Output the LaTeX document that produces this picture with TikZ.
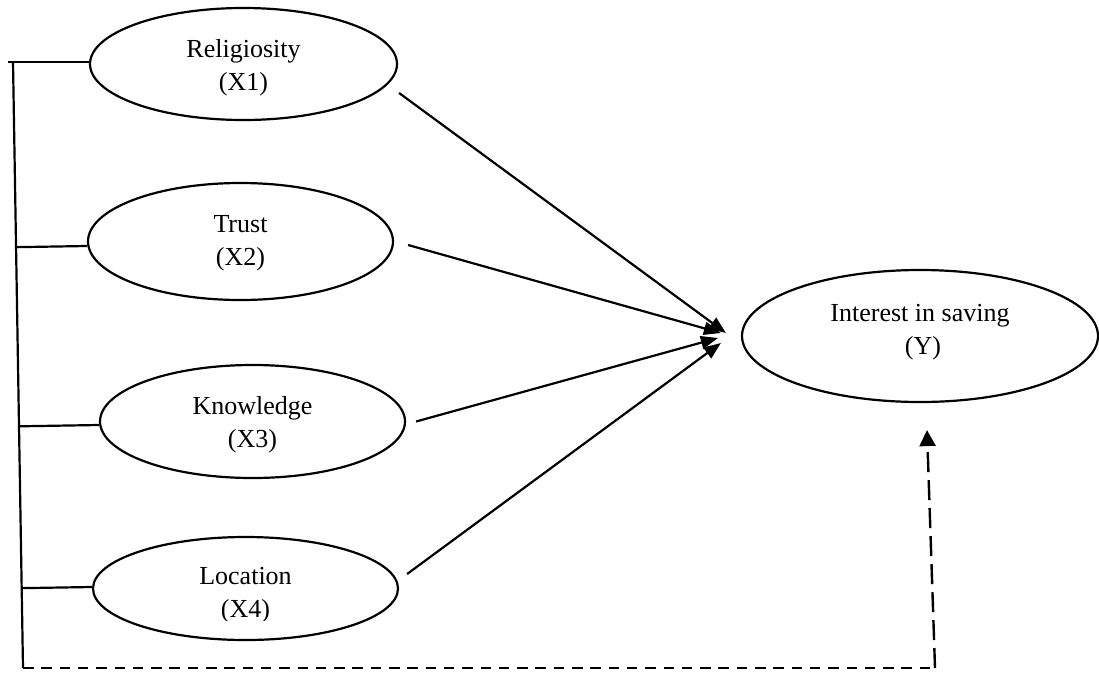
\documentclass[tikz,border=0pt]{standalone}
\usepackage{fontspec}
\setmainfont{Liberation Serif}
\usetikzlibrary{arrows.meta,calc,shapes.geometric}
\begin{document}
\begin{tikzpicture}[x=1pt,y=-1pt,
  var/.style={draw,ellipse,line width=2.2pt,inner sep=0pt},
  lbl/.style={align=center,font=\fontsize{26}{33}\selectfont,inner sep=0pt},
  arr/.style={line width=2.2pt,-{Triangle[length=17pt,width=13pt]}},
  link/.style={line width=2.2pt},
  dashh/.style={line width=2.4pt,dash pattern=on 10.5pt off 7.8pt},
  dashv/.style={line width=2.4pt,dash pattern=on 20pt off 8pt,-{Triangle[length=16pt,width=16pt]}}]
\useasboundingbox (0,0) rectangle (1099,672);
% ellipses
\node[var,minimum width=307pt,minimum height=112pt] (r1) at (243.5,64) {};
\node[var,minimum width=305pt,minimum height=117pt] (r2) at (240.5,241.5) {};
\node[var,minimum width=305pt,minimum height=113pt] (r3) at (252.5,421.5) {};
\node[var,minimum width=305pt,minimum height=103pt] (r4) at (245.5,588.5) {};
\node[var,minimum width=356pt,minimum height=132pt] (y) at (920,336) {};
% labels
\node[lbl] (l1) at ($(r1)+(0,4)$) {Religiosity\\(X1)};
\node[lbl] (l2) at ($(r2)+(0,2)$) {Trust\\(X2)};
\node[lbl] (l3) at ($(r3)+(0,3)$) {Knowledge\\(X3)};
\begin{scope}
\clip (0,0) rectangle (1099,620);
\node[lbl] (l4) at ($(r4)+(0,7)$) {Location\\(X4)};
\end{scope}
\node[lbl] (ly) at ($(y)+(0,-4)$) {Interest in saving\\\hspace*{6pt}(Y)};
% left bracket lines
\coordinate (tl) at (8,62);
\coordinate (vtop) at (13,62);
\coordinate (vbot) at (23,668);
\draw[link] (tl) -- (tl -| r1.west);
\draw[link] (vtop) -- (vbot);
\draw[link] ($(vtop)!($(r2.west)+(0,4.5)$)!(vbot)$) -- ($(r2.west)+(0,4.5)$);
\draw[link] ($(vtop)!($(r3.west)+(0,3.5)$)!(vbot)$) -- ($(r3.west)+(0,3.5)$);
\draw[link] ($(vtop)!($(r4.west)+(0,-1.5)$)!(vbot)$) -- ($(r4.west)+(0,-1.5)$);
% arrows
\draw[arr] ($(r1.east)+(1,29)$) -- ($(y.west)+(-15,-3)$);
\draw[arr] ($(r2.east)+(14,3.5)$) -- ($(y.west)+(-20,-3)$);
\draw[arr] ($(r3.east)+(10,0)$) -- ($(y.west)+(-23,2)$);
\draw[arr] ($(r4.east)+(8,-14.5)$) -- ($(y.west)+(-20,7)$);
% dashed
\coordinate (dc) at (935,668);
\draw[dashh] (vbot) -- (dc);
\draw[dashv] (dc) -- ($(y.south)+(7,27)$);
\end{tikzpicture}
\end{document}
